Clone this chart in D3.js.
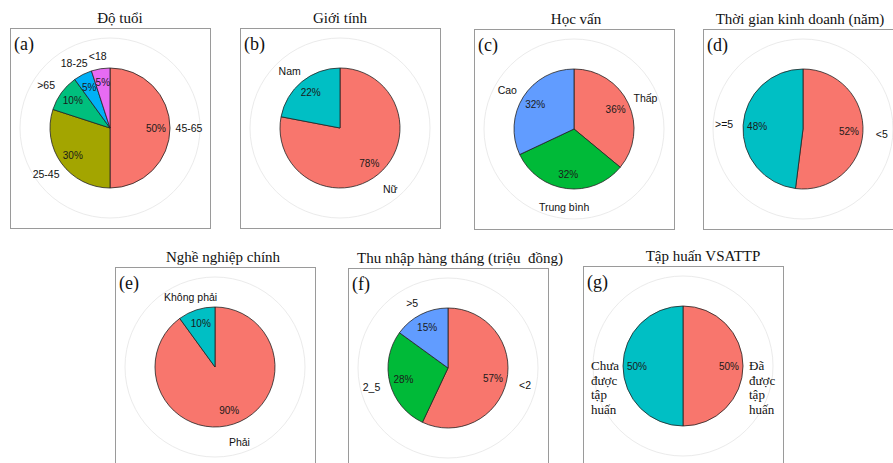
<!DOCTYPE html>
<html>
<head>
<meta charset="utf-8">
<script src="https://cdn.jsdelivr.net/npm/d3@7"></script>
<style>
  body { margin: 0; background: #fff; }
  svg { display: block; }
</style>
</head>
<body>
<div id="chart"></div>
<script>
// data for each pie, in drawing order (clockwise from 12 o'clock)
const ageLabels = ['45-65', '25-45', '>65', '18-25', '<18'];
const ageValues = [50, 30, 10, 5, 5];
const genderLabels = ['Nữ', 'Nam'];
const genderValues = [78, 22];
const eduLabels = ['Thấp', 'Trung bình', 'Cao'];
const eduValues = [36, 32, 32];
const yearsLabels = ['<5', '>=5'];
const yearsValues = [52, 48];
const jobLabels = ['Phải', 'Không phải'];
const jobValues = [90, 10];
const incomeLabels = ['<2', '2_5', '>5'];
const incomeValues = [57, 28, 15];
const trainLabels = ['Đã\nđược\ntập\nhuấn', 'Chưa\nđược\ntập\nhuấn'];
const trainValues = [50, 50];

const titles = ['Độ tuổi', 'Giới tính', 'Học vấn', 'Thời gian kinh doanh (năm)',
  'Nghề nghiệp chính', 'Thu nhập hàng tháng (triệu  đồng)', 'Tập huấn VSATTP'];
const tags = ['(a)', '(b)', '(c)', '(d)', '(e)', '(f)', '(g)'];

const pal5 = ['#F8766D', '#A3A500', '#00BF7D', '#00B0F6', '#E76BF3'];
const pal3 = ['#F8766D', '#00BA38', '#619CFF'];
const pal2 = ['#F8766D', '#00BFC4'];

const panels = [
  { labels: ageLabels, values: ageValues, colors: pal5, x: 10, y: 28, tdx: 10 },
  { labels: genderLabels, values: genderValues, colors: pal2, x: 240, y: 28, tdx: 0 },
  { labels: eduLabels, values: eduValues, colors: pal3, x: 474, y: 29, tdx: 2 },
  { labels: yearsLabels, values: yearsValues, colors: pal2, x: 703, y: 29, tdx: -3 },
  { labels: jobLabels, values: jobValues, colors: pal2, x: 115, y: 267, tdx: 8 },
  { labels: incomeLabels, values: incomeValues, colors: pal3, x: 348, y: 268, tdx: 12 },
  { labels: trainLabels, values: trainValues, colors: pal2, x: 583, y: 266, tdx: 20, serifLabels: true }
];

const W = 893, H = 463;
const box = 200, r = 60, gridR = 90, pctR = 46, labR = 79;

const svg = d3.select('#chart').append('svg')
  .attr('width', W).attr('height', H);

panels.forEach((p, i) => {
  const g = svg.append('g').attr('transform', `translate(${p.x},${p.y})`);

  svg.append('text')
    .attr('x', p.x + box / 2 + p.tdx)
    .attr('y', p.y - 5)
    .attr('text-anchor', 'middle')
    .style('font-family', '"Liberation Serif", "Times New Roman", serif')
    .style('font-size', '15px')
    .style('white-space', 'pre')
    .style('fill', '#111')
    .text(titles[i]);

  g.append('rect')
    .attr('x', 0.5).attr('y', 0.5)
    .attr('width', box).attr('height', box)
    .attr('fill', '#fff')
    .attr('stroke', '#9a9a9a')
    .attr('stroke-width', 1);

  g.append('text')
    .attr('x', 4).attr('y', 22)
    .style('font-family', '"Liberation Serif", "Times New Roman", serif')
    .style('font-size', '18px')
    .style('fill', '#111')
    .text(tags[i]);

  const c = g.append('g').attr('transform', `translate(${box / 2},${box / 2})`);

  c.append('circle')
    .attr('r', gridR)
    .attr('fill', 'none')
    .attr('stroke', '#ebebeb')
    .attr('stroke-width', 1);

  const data = p.labels.map((l, k) => ({ label: l, value: p.values[k], color: p.colors[k] }));
  const arcs = d3.pie().sort(null).value(d => d.value)(data);
  const arc = d3.arc().innerRadius(0).outerRadius(r);

  c.selectAll('path.slice')
    .data(arcs)
    .enter()
    .append('path')
    .attr('class', 'slice')
    .attr('d', arc)
    .attr('fill', d => d.data.color)
    .attr('stroke', '#222')
    .attr('stroke-width', 0.8);

  const mid = d => (d.startAngle + d.endAngle) / 2;

  c.selectAll('text.pct')
    .data(arcs)
    .enter()
    .append('text')
    .attr('class', 'pct')
    .attr('x', d => pctR * Math.sin(mid(d)))
    .attr('y', d => -pctR * Math.cos(mid(d)))
    .attr('dy', '0.35em')
    .attr('text-anchor', 'middle')
    .style('font-family', '"Liberation Sans", Arial, sans-serif')
    .style('font-size', '10px')
    .style('fill', '#1a1a1a')
    .text(d => d.data.value + '%');

  if (p.serifLabels) {
    arcs.forEach(d => {
      const lines = d.data.label.split('\n');
      const lx = labR * Math.sin(mid(d));
      const ly = -labR * Math.cos(mid(d));
      const t = c.append('text')
        .attr('x', lx - 13)
        .attr('y', ly + 4)
        .style('font-family', '"Liberation Serif", "Times New Roman", serif')
        .style('font-size', '13px')
        .style('fill', '#111');
      lines.forEach((ln, k) => {
        t.append('tspan')
          .attr('x', lx - 13)
          .attr('dy', k === 0 ? 0 : 14.5)
          .text(ln);
      });
    });
  } else {
    // labels near 12 o'clock sit a little closer to the pie
    c.selectAll('text.lab')
      .data(arcs)
      .enter()
      .append('text')
      .attr('class', 'lab')
      .attr('x', d => labR * Math.sin(mid(d)))
      .attr('y', d => -labR * Math.cos(mid(d)) + Math.max(0, Math.cos(mid(d))) * 6)
      .attr('dy', '0.35em')
      .attr('text-anchor', 'middle')
      .style('font-family', '"Liberation Sans", Arial, sans-serif')
      .style('font-size', '10.5px')
      .style('fill', '#111')
      .text(d => d.data.label);
  }
});
</script>
</body>
</html>
